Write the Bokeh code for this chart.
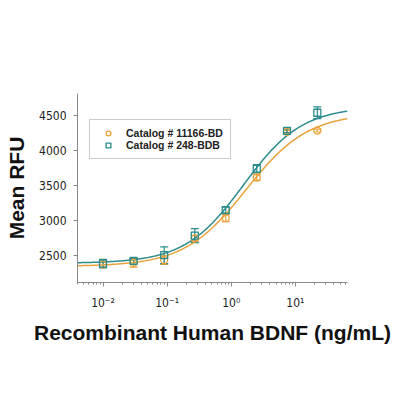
import numpy as np
from bokeh.plotting import figure
from bokeh.models import (Range1d, ColumnDataSource, Whisker, Legend, LegendItem,
                          CustomJSTickFormatter, FixedTicker)
from bokeh.embed import file_html
from bokeh.resources import INLINE

# ---- data ----
conc = [0.01, 0.03, 0.09, 0.27, 0.82, 2.5, 7.4, 22]
rfu_11166 = [2365, 2390, 2430, 2740, 3030, 3610, 4262, 4280]
err_11166 = [40, 60, 60, 40, 50, 40, 20, 20]
rfu_248 = [2380, 2419, 2500, 2780, 3145, 3735, 4275, 4535]
err_248 = [60, 30, 120, 100, 40, 60, 25, 85]

# 4-parameter logistic fit parameters (bottom, top, EC50, hill)
fit_11166 = (2340, 4530, 1.7, 0.9)
fit_248 = (2385, 4620, 1.55, 0.95)

series_names = ["Catalog # 11166-BD", "Catalog # 248-BDB"]
y_ticks = [2500, 3000, 3500, 4000, 4500]

ORANGE = "#E9A23B"
TEAL = "#2B8A8A"

p = figure(width=400, height=400, x_axis_type="log",
           x_range=Range1d(0.004, 65), y_range=Range1d(2110, 4810),
           output_backend="svg", toolbar_location=None,
           min_border_left=77, min_border_right=53,
           min_border_top=93, min_border_bottom=118)
p.outline_line_color = None
p.grid.grid_line_color = None
p.background_fill_color = "white"
p.border_fill_color = "white"

def fourpl(x, params):
    b, t, c, h = params
    return b + (t - b) / (1 + (c / x) ** h)

xs = np.logspace(np.log10(0.004), np.log10(65), 300)
p.line(xs, fourpl(xs, fit_11166), line_color=ORANGE, line_width=1.5)
p.line(xs, fourpl(xs, fit_248), line_color=TEAL, line_width=1.5)

items = []
for vals, errs, col, name, marker in [
        (rfu_11166, err_11166, ORANGE, series_names[0], "circle"),
        (rfu_248, err_248, TEAL, series_names[1], "square")]:
    src = ColumnDataSource(dict(x=conc, y=vals,
                                lo=[v - e for v, e in zip(vals, errs)],
                                hi=[v + e for v, e in zip(vals, errs)]))
    w = Whisker(source=src, base="x", lower="lo", upper="hi",
                line_color=col, line_width=1.2)
    w.upper_head.size = 8
    w.lower_head.size = 8
    w.upper_head.line_color = col
    w.lower_head.line_color = col
    w.upper_head.line_width = 1.2
    w.lower_head.line_width = 1.2
    p.add_layout(w)
    r = p.scatter("x", "y", source=src, marker=marker, size=7,
                  line_color=col, line_width=1.3, fill_color=None)
    items.append(LegendItem(label=name, renderers=[r]))

legend = Legend(items=items, location=(12, 123), padding=7, spacing=0,
                glyph_width=22, glyph_height=12, label_height=12,
                label_standoff=7, margin=0,
                label_text_font="Liberation Sans", label_text_font_style="bold",
                label_text_font_size="10.5px", label_text_color="#222222",
                border_line_color="#999999", border_line_width=1,
                background_fill_color="white", background_fill_alpha=1)
p.add_layout(legend, "center")

AX = "#888888"
for ax in (p.xaxis[0], p.yaxis[0]):
    ax.axis_line_color = AX
    ax.major_tick_line_color = AX
    ax.minor_tick_line_color = AX
    ax.major_tick_in = 0
    ax.major_tick_out = 4
    ax.minor_tick_in = 0
    ax.minor_tick_out = 2
    ax.major_label_text_font = "DejaVu Sans Condensed"
    ax.major_label_text_font_size = "12px"
    ax.major_label_text_color = "#222222"
    ax.axis_label_text_font = "Liberation Sans"
    ax.axis_label_text_font_style = "bold"
    ax.axis_label_text_font_size = "21px"
    ax.axis_label_text_color = "#111111"

p.yaxis.ticker = FixedTicker(ticks=y_ticks)
p.yaxis.minor_tick_line_color = None
p.yaxis.major_label_standoff = 7
p.yaxis.axis_label = "Mean RFU"
p.yaxis.axis_label_standoff = 8

p.xaxis.major_label_standoff = 9
p.xaxis.axis_label = "Recombinant Human BDNF (ng/mL)"
p.xaxis.axis_label_standoff = 8
p.xaxis.formatter = CustomJSTickFormatter(code="""
const e = Math.round(Math.log10(tick));
const sup = {"-":"\u207B","0":"\u2070","1":"\u00B9","2":"\u00B2","3":"\u00B3",
             "4":"\u2074","5":"\u2075","6":"\u2076","7":"\u2077","8":"\u2078","9":"\u2079"};
return "10" + String(e).split("").map(c => sup[c]).join("");
""")

open("out.html", "w").write(file_html(p, INLINE))
